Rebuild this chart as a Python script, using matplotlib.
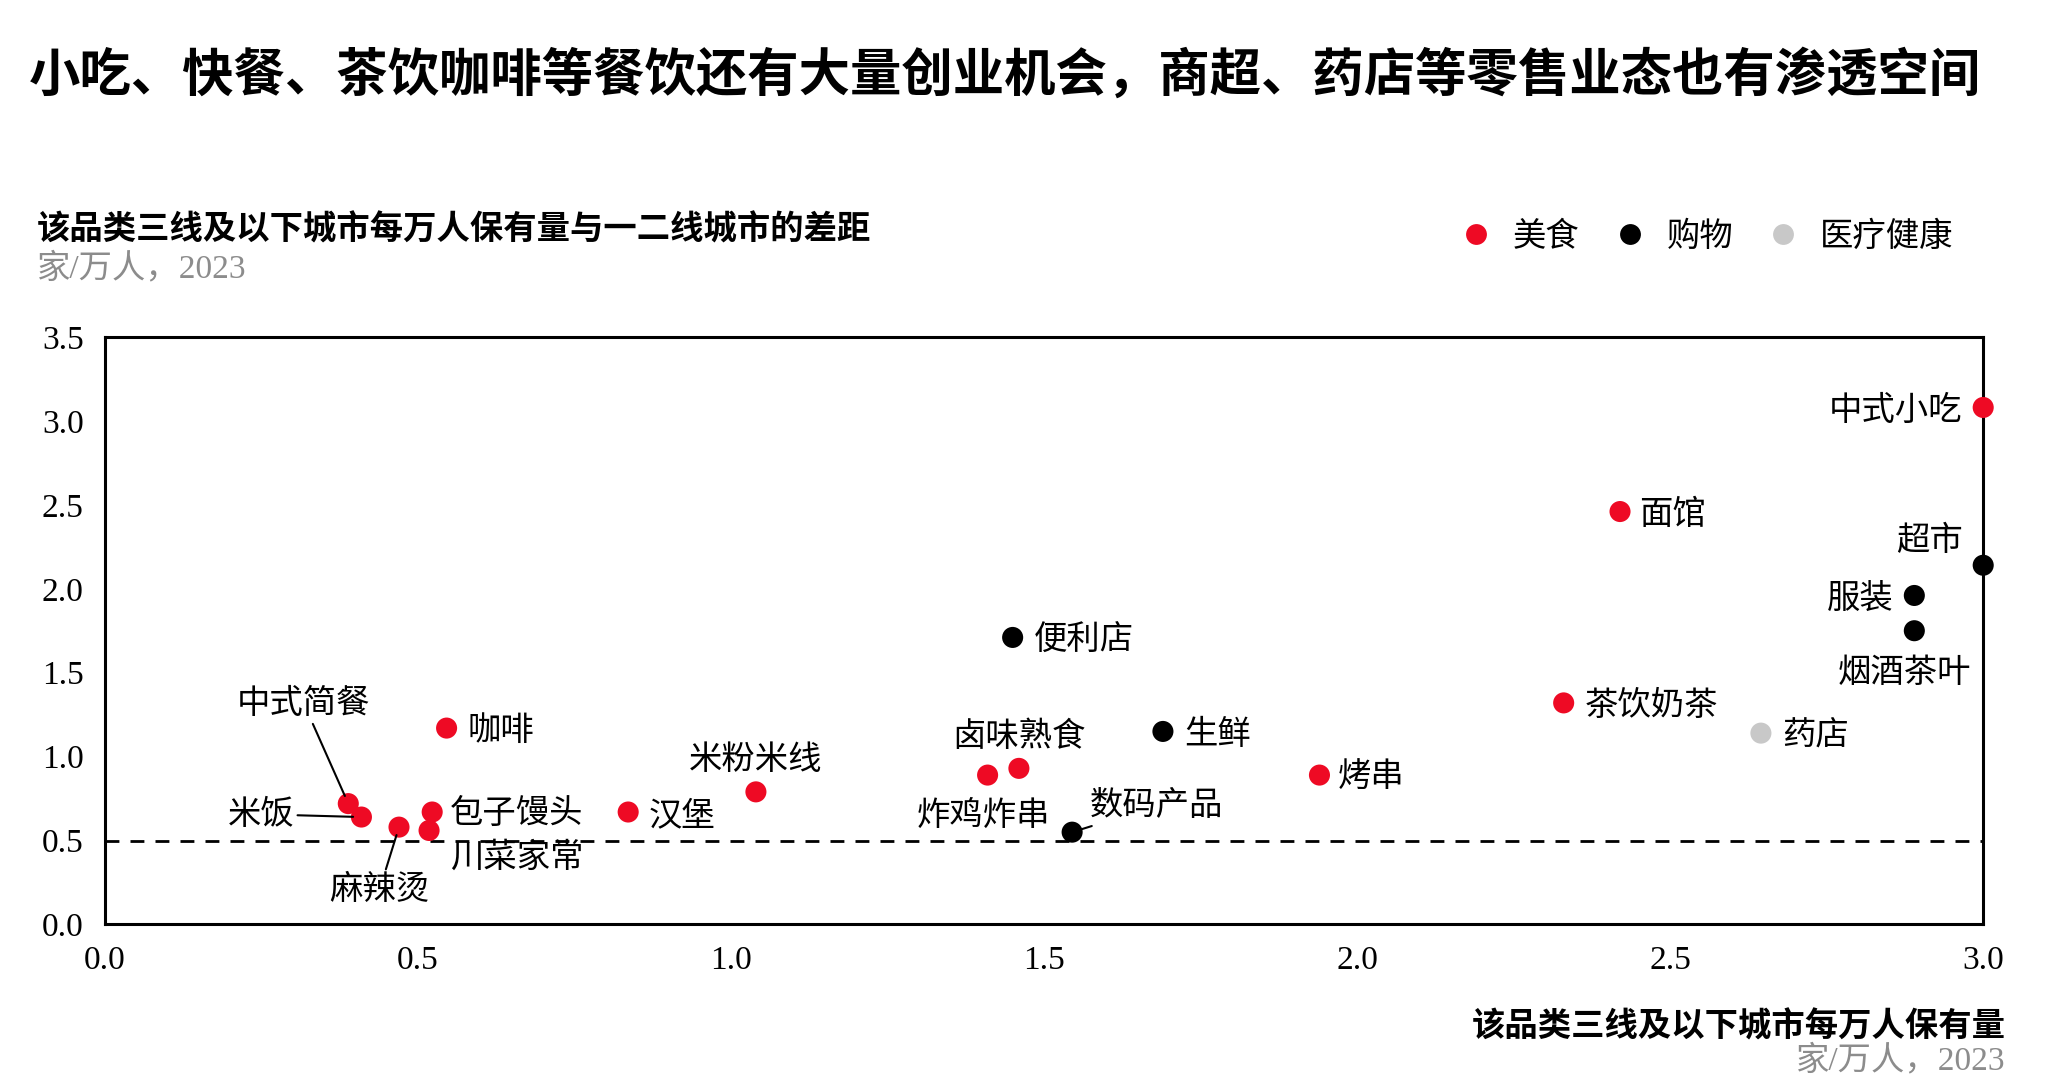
import matplotlib.pyplot as plt
from matplotlib.lines import Line2D

plt.rcParams['font.family'] = ['Noto Sans CJK SC', 'DejaVu Sans']

# data
names = ['中式小吃', '面馆', '超市', '服装', '烟酒茶叶', '便利店', '茶饮奶茶', '药店',
         '生鲜', '烤串', '卤味熟食', '炸鸡炸串', '数码产品', '米粉米线', '汉堡', '咖啡',
         '中式简餐', '米饭', '麻辣烫', '包子馒头', '川菜家常']
x_vals = [3.0, 2.42, 3.0, 2.89, 2.89, 1.45, 2.33, 2.645,
          1.69, 1.94, 1.46, 1.41, 1.545, 1.04, 0.836, 0.546,
          0.389, 0.41, 0.47, 0.523, 0.518]
y_vals = [3.08, 2.46, 2.14, 1.96, 1.75, 1.71, 1.32, 1.14,
          1.15, 0.89, 0.93, 0.89, 0.55, 0.79, 0.67, 1.17,
          0.72, 0.64, 0.58, 0.67, 0.56]
groups = ['美食', '美食', '购物', '购物', '购物', '购物', '美食', '医疗健康',
          '购物', '美食', '美食', '美食', '购物', '美食', '美食', '美食',
          '美食', '美食', '美食', '美食', '美食']
group_names = ['美食', '购物', '医疗健康']
group_colors = ['#EE0A24', '#000000', '#C8C8C8']

# label offsets in points: (dx, dy, ha, leader line)
label_pos = {
    '中式小吃': (-15, -2, 'right', False),
    '面馆': (14, -2, 'left', False),
    '超市': (-15, 18, 'right', False),
    '服装': (-15, -2, 'right', False),
    '烟酒茶叶': (-7, -30, 'center', False),
    '便利店': (15, -2, 'left', False),
    '茶饮奶茶': (15, -2, 'left', False),
    '药店': (15, -2, 'left', False),
    '生鲜': (15, -2, 'left', False),
    '烤串': (13, -2, 'left', False),
    '卤味熟食': (0, 23, 'center', False),
    '炸鸡炸串': (-3, -29, 'center', False),
    '数码产品': (13, 19, 'left', True),
    '米粉米线': (0, 23, 'center', False),
    '汉堡': (15, -3, 'left', False),
    '咖啡': (15, -2, 'left', False),
    '中式简餐': (-32, 72, 'center', True),
    '米饭': (-48, 2, 'right', True),
    '麻辣烫': (-14, -45, 'center', True),
    '包子馒头': (13, -1, 'left', False),
    '川菜家常': (15, -19, 'left', False),
}

fig = plt.figure(figsize=(20.53, 10.80), dpi=100)
ax = fig.add_axes([0.051, 0.144, 0.915, 0.544])

ax.axhline(0.5, color='black', lw=2, ls=(0, (5, 4)), zorder=1)

cmap = dict(zip(group_names, group_colors))
ax.scatter(x_vals, y_vals, s=230, c=[cmap[g] for g in groups],
           edgecolors='none', zorder=3, clip_on=False)

for name, xv, yv in zip(names, x_vals, y_vals):
    dx, dy, ha, leader = label_pos[name]
    props = None
    if leader:
        props = dict(arrowstyle='-', color='black', lw=1.5, shrinkA=0, shrinkB=6)
    ax.annotate(name, (xv, yv), xytext=(dx, dy), textcoords='offset points',
                ha=ha, va='center', fontsize=24, arrowprops=props, zorder=4)

ax.set_xlim(0, 3)
ax.set_ylim(0, 3.5)
ax.set_xticks([0, 0.5, 1.0, 1.5, 2.0, 2.5, 3.0])
ax.set_yticks([0, 0.5, 1.0, 1.5, 2.0, 2.5, 3.0, 3.5])
ax.xaxis.set_major_formatter(lambda v, p: f'{v:.1f}')
ax.yaxis.set_major_formatter(lambda v, p: f'{v:.1f}')
ax.tick_params(length=0, pad=15, labelsize=24, labelfontfamily='Liberation Serif')
for sp in ax.spines.values():
    sp.set_linewidth(2.2)

# legend
handles = [Line2D([], [], marker='o', ls='none', ms=15, color=c, mec='none')
           for c in group_colors]
fig.legend(handles, group_names, loc='center right', bbox_to_anchor=(0.958, 0.781),
           ncol=3, frameon=False, fontsize=24, handlelength=1.0, handletextpad=0.6,
           columnspacing=1.0, borderaxespad=0)

fig.text(0.014, 0.93, '小吃、快餐、茶饮咖啡等餐饮还有大量创业机会，商超、药店等零售业态也有渗透空间',
         fontsize=37, fontweight='bold', va='center', ha='left')
fig.text(0.018, 0.787, '该品类三线及以下城市每万人保有量与一二线城市的差距',
         fontsize=24, fontweight='bold', va='center', ha='left')
fig.text(0.018, 0.751, '家/万人，2023', fontsize=24, color='#8C8C8C',
         family=['Liberation Serif', 'Noto Sans CJK SC'], va='center', ha='left')

fig.text(0.977, 0.049, '该品类三线及以下城市每万人保有量',
         fontsize=24, fontweight='bold', va='center', ha='right')
fig.text(0.977, 0.018, '家/万人，2023', fontsize=24, color='#8C8C8C',
         family=['Liberation Serif', 'Noto Sans CJK SC'], va='center', ha='right')

fig.savefig('out.png', dpi=100)
